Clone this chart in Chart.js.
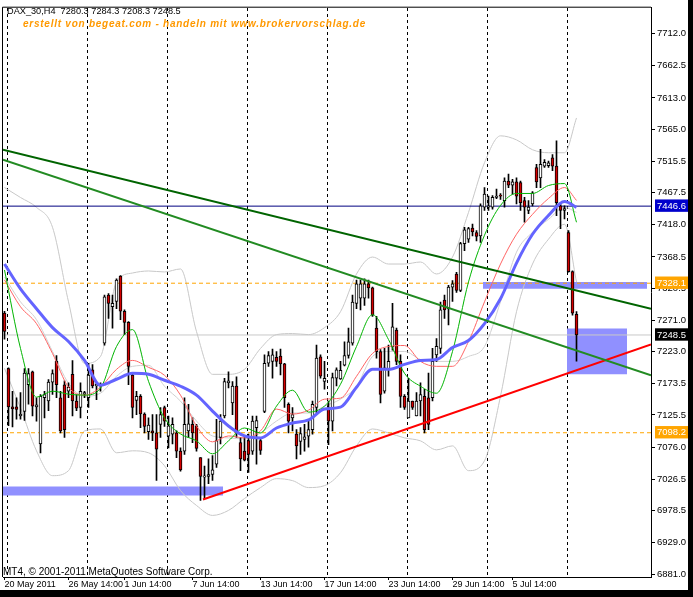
<!DOCTYPE html>
<html>
<head>
<meta charset="utf-8">
<script src="https://cdn.jsdelivr.net/npm/chart.js@4.4.1/dist/chart.umd.min.js"></script>
<style>
    html, body { margin: 0; padding: 0; background: #000; width: 693px; height: 597px; overflow: hidden; }
    #chart { display: block; background: #fff; }
</style>
</head>
<body>
<canvas id="chart" width="688" height="590"></canvas>
<script>
// ===== Data (DAX_30, H4) =====
const barOpen = [
    7282, 7197, 7138, 7138, 7124, 7131, 7172, 7192, 7138, 7081, 7152, 7147, 7176, 7208, 7152, 7172,
    7162, 7188, 7147, 7137, 7157, 7152, 7195, 7170, 7171, 7236, 7310, 7292, 7300, 7339, 7285, 7268,
    7187, 7148, 7154, 7127, 7100, 7101, 7098, 7111, 7137, 7093, 7096, 7098, 7070, 7070, 7101, 7111,
    7109, 7060, 7030, 7031, 7034, 7050, 7091, 7124, 7175, 7144, 7170, 7083, 7070, 7086, 7070, 7106,
    7086, 7131, 7205, 7208, 7214, 7216, 7204, 7142, 7121, 7096, 7085, 7088, 7093, 7103, 7137, 7215,
    7177, 7137, 7116, 7182, 7181, 7202, 7217, 7236, 7297, 7305, 7305, 7327, 7321, 7259, 7223, 7162,
    7195, 7230, 7256, 7208, 7154, 7121, 7147, 7124, 7147, 7154, 7152, 7152, 7218, 7228, 7302, 7289,
    7322, 7342, 7317, 7389, 7396, 7413, 7406, 7401, 7445, 7445, 7445, 7460, 7463, 7455, 7485, 7479,
    7484, 7483, 7455, 7440, 7450, 7506, 7490, 7508, 7509, 7521, 7508, 7447, 7440, 7406, 7346, 7280.3
];
const barHigh = [
    7285, 7198, 7162, 7152, 7160, 7197, 7197, 7193, 7152, 7157, 7162, 7180, 7195, 7217, 7162, 7178,
    7175, 7209, 7157, 7175, 7162, 7205, 7203, 7175, 7175, 7310, 7312, 7310, 7335, 7340, 7287, 7269,
    7190, 7162, 7157, 7129, 7121, 7126, 7126, 7137, 7139, 7124, 7121, 7101, 7075, 7152, 7142, 7121,
    7111, 7060, 7047, 7058, 7063, 7119, 7126, 7182, 7192, 7177, 7184, 7091, 7091, 7096, 7124, 7124,
    7091, 7218, 7223, 7227, 7223, 7227, 7205, 7144, 7137, 7103, 7106, 7111, 7116, 7147, 7233, 7218,
    7208, 7147, 7190, 7198, 7208, 7238, 7259, 7310, 7333, 7333, 7335, 7333, 7322, 7277, 7226, 7228,
    7233, 7297, 7259, 7218, 7157, 7182, 7147, 7160, 7175, 7165, 7190, 7228, 7243, 7299, 7310, 7325,
    7332, 7345, 7391, 7414, 7414, 7419, 7409, 7450, 7475, 7462, 7463, 7473, 7466, 7490, 7496, 7488,
    7490, 7485, 7460, 7455, 7469, 7511, 7534, 7518, 7516, 7526, 7547, 7452, 7447, 7409, 7347, 7284.3
];
const barLow = [
    7242, 7109, 7107, 7119, 7119, 7117, 7142, 7124, 7116, 7067, 7121, 7132, 7157, 7152, 7098, 7091,
    7152, 7124, 7132, 7121, 7152, 7137, 7167, 7149, 7162, 7233, 7274, 7259, 7289, 7272, 7249, 7172,
    7121, 7126, 7106, 7098, 7088, 7086, 7025, 7091, 7108, 7075, 7081, 7060, 7039, 7065, 7091, 7083,
    7070, 6994, 6997, 7020, 7025, 7045, 7081, 7121, 7167, 7126, 7091, 7040, 7055, 7037, 7065, 7050,
    7065, 7129, 7200, 7182, 7200, 7187, 7137, 7098, 7101, 7058, 7065, 7070, 7076, 7096, 7129, 7182,
    7165, 7080, 7101, 7170, 7180, 7201, 7213, 7233, 7289, 7287, 7294, 7305, 7277, 7213, 7144, 7159,
    7185, 7225, 7203, 7137, 7134, 7121, 7134, 7124, 7124, 7098, 7103, 7147, 7208, 7220, 7274, 7264,
    7300, 7314, 7315, 7378, 7391, 7401, 7393, 7391, 7440, 7440, 7442, 7458, 7457, 7445, 7475, 7465,
    7450, 7440, 7422, 7435, 7447, 7475, 7475, 7506, 7506, 7501, 7432, 7412, 7427, 7345, 7279, 7208.3
];
const barClose = [
    7254, 7138, 7135, 7134, 7127, 7190, 7189, 7139, 7141, 7154, 7157, 7176, 7189, 7172, 7101, 7103,
    7168, 7147, 7136, 7162, 7160, 7187, 7170, 7173, 7173, 7307, 7297, 7297, 7333, 7285, 7268, 7200,
    7137, 7154, 7127, 7108, 7110, 7098, 7073, 7126, 7116, 7109, 7111, 7070, 7041, 7111, 7112, 7098,
    7074, 7031, 7032, 7034, 7041, 7086, 7116, 7177, 7178, 7170, 7098, 7058, 7056, 7065, 7116, 7117,
    7071, 7205, 7217, 7218, 7208, 7204, 7152, 7116, 7126, 7078, 7097, 7092, 7103, 7142, 7213, 7185,
    7182, 7116, 7183, 7195, 7194, 7217, 7238, 7299, 7327, 7327, 7327, 7321, 7279, 7223, 7157, 7198,
    7208, 7261, 7208, 7154, 7137, 7147, 7137, 7147, 7157, 7103, 7111, 7208, 7231, 7287, 7287, 7322,
    7327, 7317, 7389, 7410, 7412, 7407, 7400, 7447, 7465, 7447, 7460, 7462, 7462, 7485, 7479, 7484,
    7462, 7452, 7445, 7445, 7467, 7484, 7511, 7514, 7513, 7508, 7452, 7440, 7443, 7346, 7282, 7248.5
];

// Indicator lines, read every 4 bars
const maBars = [0, 4, 8, 12, 16, 20, 24, 28, 32, 36, 40, 44, 48, 52, 56, 60, 64, 68, 72, 76, 80, 84,
    88, 92, 96, 100, 104, 108, 112, 116, 120, 124, 128, 132, 136, 140, 143];
const maBlue = [7357.6, 7319.4, 7288.9, 7259.8, 7238.4, 7209.4, 7171.2, 7180.4, 7189.6, 7188.0, 7178.9,
    7169.7, 7156.0, 7131.5, 7108.6, 7093.3, 7090.3, 7105.5, 7113.2, 7117.8, 7134.6, 7137.6, 7168.2, 7195.7,
    7195.7, 7203.3, 7209.4, 7210.9, 7229.3, 7240.0, 7265.9, 7304.1, 7359.1, 7403.4, 7432.4, 7453.8, 7444.7];
const maRed = [7333.2, 7291.9, 7265.9, 7220.1, 7168.2, 7156.0, 7168.2, 7195.7, 7209.4, 7198.7, 7186.5,
    7156.0, 7108.6, 7084.2, 7093.3, 7090.3, 7101.0, 7134.6, 7126.9, 7133.0, 7149.8, 7151.4, 7185.0, 7220.1,
    7230.8, 7232.3, 7207.9, 7200.3, 7200.3, 7238.4, 7299.5, 7357.6, 7403.4, 7434.0, 7458.4, 7475.2, 7455.4];
const maGreen = [7348.4, 7227.8, 7152.9, 7162.1, 7157.5, 7156.0, 7166.6, 7230.8, 7256.8, 7177.3, 7120.8,
    7096.4, 7085.7, 7065.8, 7085.7, 7105.5, 7097.9, 7139.1, 7163.6, 7130.0, 7139.1, 7172.8, 7230.8, 7279.7,
    7241.5, 7189.6, 7169.7, 7159.0, 7223.2, 7330.1, 7401.9, 7447.7, 7466.1, 7466.1, 7478.3, 7481.3, 7421.8];
const bbUpper = [7475.2, 7459.9, 7444.7, 7414.1, 7299.5, 7204.8, 7215.5, 7330.1, 7343.8, 7346.9, 7345.4,
    7350.0, 7253.7, 7188.0, 7188.0, 7195.7, 7227.8, 7249.1, 7250.7, 7249.1, 7259.8, 7284.3, 7342.3, 7368.3,
    7357.6, 7357.6, 7360.7, 7342.3, 7368.3, 7437.0, 7513.4, 7554.7, 7548.5, 7533.3, 7528.7, 7528.7, 7582.2];
const bbMiddle = [7337.7, 7299.5, 7272.0, 7223.2, 7174.3, 7154.4, 7159.0, 7185.0, 7200.3, 7201.8, 7169.7,
    7146.8, 7116.2, 7093.3, 7090.3, 7088.7, 7097.9, 7116.2, 7128.5, 7128.5, 7139.1, 7149.8, 7169.7, 7215.5,
    7223.2, 7223.2, 7210.9, 7207.9, 7207.9, 7215.5, 7230.8, 7299.5, 7375.9, 7406.5, 7426.3, 7444.7, 7437.0];
const bbLower = [7197.2, 7136.1, 7070.4, 7032.2, 7039.9, 7101.0, 7104.0, 7067.4, 7070.4, 7067.4, 7047.5,
    7009.3, 6986.4, 6971.1, 6978.8, 6997.1, 7013.9, 7027.6, 7024.6, 7013.9, 7016.9, 7036.8, 7078.0, 7104.0,
    7097.9, 7090.3, 7085.7, 7071.9, 7078.0, 7039.9, 7055.1, 7154.4, 7284.3, 7357.6, 7395.8, 7418.7, 7330.0];

// Trend lines (bar index, price)
const trendTopBars = [-0.375, 161.625];
const trendTopPrices = [7533.3, 7288.9];
const trendMidBars = [-0.375, 161.625];
const trendMidPrices = [7518.0, 7186.5];
const supportBars = [49.625, 161.625];
const supportPrices = [6995.6, 7233.9];

// Rectangles: [from bar, to bar] and [price top, price bottom]
const zoneBars = [[-0.375, 54.625], [119.625, 160.625], [140.625, 155.625]];
const zonePrices = [[7015.4, 7001.7], [7330.1, 7319.4], [7258.3, 7188.0]];

// Horizontal levels with their price boxes
const levelPrices = [7446.6, 7328.1, 7248.5, 7098.2];

// Axes
const yTickValues = [7712.0, 7662.5, 7613.0, 7565.0, 7515.5, 7467.5, 7418.0, 7368.5, 7320.5, 7271.0,
    7223.0, 7173.5, 7125.5, 7076.0, 7026.5, 6978.5, 6929.0, 6881.0];
const xLabelBars = [0, 16, 30, 47, 64, 80, 96, 112, 127];
const xLabels = ['20 May 2011', '26 May 14:00', '1 Jun 14:00', '7 Jun 14:00', '13 Jun 14:00',
    '17 Jun 14:00', '23 Jun 14:00', '29 Jun 14:00', '5 Jul 14:00'];

// ===== Chart =====
const X_MIN = -0.375;
const X_MAX = 161.625;
const Y_MIN = 6876.4;
const Y_MAX = 7751.7;
const FONT = '"Liberation Sans", Arial, sans-serif';

const levelBox = { 7446.6: '#0000cc', 7328.1: '#ffa500', 7248.5: '#000000', 7098.2: '#ffa500' };
const isLevel = v => levelPrices.includes(v);

function series(values) {
    return values.map((v, k) => ({ x: maBars[k], y: v }));
}

function line(data, color, width, order, extra) {
    return Object.assign({
        type: 'line', data: data, borderColor: color, borderWidth: width,
        pointRadius: 0, fill: false, order: order, xAxisID: 'x', yAxisID: 'y'
    }, extra || {});
}

const datasets = [];

// blue zones (behind everything)
zoneBars.forEach((b, k) => {
    const p = zonePrices[k];
    datasets.push(line([
        { x: b[0], y: p[0] }, { x: b[1], y: p[0] }, { x: b[1], y: p[1] }, { x: b[0], y: p[1] }, { x: b[0], y: p[0] }
    ], 'rgba(0,0,0,0)', 0, 100, { fill: 'shape', backgroundColor: '#9090ff' }));
});

// bollinger bands
datasets.push(line(series(bbUpper), '#c8c8c8', 1, 80, { cubicInterpolationMode: 'monotone' }));
datasets.push(line(series(bbMiddle), '#d0d0d0', 1, 80, { cubicInterpolationMode: 'monotone' }));
datasets.push(line(series(bbLower), '#c8c8c8', 1, 80, { cubicInterpolationMode: 'monotone' }));

// horizontal levels
const levelStyle = [
    { color: '#000080', dash: [] },
    { color: '#ffa500', dash: [4, 3] },
    { color: '#c8c8c8', dash: [] },
    { color: '#ffa500', dash: [4, 3] }
];
levelPrices.forEach((p, k) => {
    datasets.push(line([{ x: X_MIN, y: p }, { x: X_MAX, y: p }], levelStyle[k].color, 1, 70,
        { borderDash: levelStyle[k].dash }));
});

// candles: wicks + bodies
datasets.push({
    type: 'bar', order: 51, xAxisID: 'x', yAxisID: 'y', grouped: false,
    data: barLow.map((l, i) => ({ x: i, y: [l, barHigh[i]] })),
    backgroundColor: '#000', barThickness: 1, borderWidth: 0
});
datasets.push({
    type: 'bar', order: 50, xAxisID: 'x', yAxisID: 'y', grouped: false,
    data: barOpen.map((o, i) => ({ x: i, y: [o, barClose[i]] })),
    backgroundColor: barOpen.map((o, i) => barClose[i] >= o ? '#ffffff' : '#d40000'),
    borderColor: '#000', borderWidth: 1, borderSkipped: false, barThickness: 3, minBarLength: 1
});

// moving averages
datasets.push(line(series(maRed), '#ff6464', 1, 32, { cubicInterpolationMode: 'monotone' }));
datasets.push(line(series(maGreen), '#00b400', 1, 31, { cubicInterpolationMode: 'monotone' }));
datasets.push(line(series(maBlue), '#6464ff', 3, 30, { cubicInterpolationMode: 'monotone' }));

// trend lines
datasets.push(line(trendTopBars.map((x, k) => ({ x: x, y: trendTopPrices[k] })), '#006400', 2, 10));
datasets.push(line(trendMidBars.map((x, k) => ({ x: x, y: trendMidPrices[k] })), '#228b22', 2, 10));
datasets.push(line(supportBars.map((x, k) => ({ x: x, y: supportPrices[k] })), '#ff0000', 2, 10));

// Frame and texts written on the chart
const overlayText = {
    id: 'overlayText',
    afterDraw(chart) {
        const ctx = chart.ctx;
        const area = chart.chartArea;
        ctx.save();
        ctx.strokeStyle = '#000';
        ctx.lineWidth = 1;
        ctx.beginPath();
        ctx.moveTo(area.left - 0.5, area.bottom);
        ctx.lineTo(area.left - 0.5, area.top - 0.5);
        ctx.lineTo(area.right, area.top - 0.5);
        ctx.stroke();

        ctx.textBaseline = 'alphabetic';
        ctx.textAlign = 'left';
        ctx.fillStyle = '#000';
        ctx.font = '9.2px ' + FONT;
        ctx.fillText('DAX_30,H4  7280.3 7284.3 7208.3 7248.5', 7, 14);
        ctx.font = '10px ' + FONT;
        ctx.fillText('MT4, \u00a9 2001-2011 MetaQuotes Software Corp.', 3, 575);

        ctx.fillStyle = '#ff9900';
        ctx.font = 'italic bold 10px ' + FONT;
        ctx.letterSpacing = '0.75px';
        ctx.fillText('erstellt von begeat.com - handeln mit www.brokervorschlag.de', 23, 27);
        ctx.restore();
    }
};

new Chart(document.getElementById('chart'), {
    type: 'bar',
    data: { datasets: datasets },
    options: {
        responsive: false,
        animation: false,
        layout: { padding: { left: 3, top: 4, right: 0, bottom: 0 } },
        plugins: { legend: { display: false }, tooltip: { enabled: false } },
        scales: {
            x: {
                type: 'linear', position: 'bottom', min: X_MIN, max: X_MAX, offset: false,
                afterBuildTicks: s => { s.ticks = xLabelBars.map(v => ({ value: v })); },
                afterFit: s => { s.height = 13; },
                ticks: {
                    autoSkip: false, maxRotation: 0, align: 'start', padding: -1, color: '#000',
                    font: { family: FONT, size: 9 },
                    callback: (v, i) => xLabels[i]
                },
                grid: { drawOnChartArea: false, drawTicks: true, tickLength: 3, tickColor: '#000', offset: false },
                border: { display: true, color: '#000' }
            },
            xg: {
                type: 'linear', position: 'top', min: X_MIN, max: X_MAX, offset: false,
                afterBuildTicks: s => {
                    const t = [];
                    for (let v = 0.625; v < 150; v += 20) t.push({ value: v });
                    s.ticks = t;
                },
                afterFit: s => { s.height = 0; },
                ticks: { display: false },
                grid: { color: '#000', lineWidth: 1, drawTicks: false, offset: false },
                border: { display: false, dash: [3, 3] }
            },
            y: {
                type: 'linear', position: 'right', min: Y_MIN, max: Y_MAX,
                afterBuildTicks: s => {
                    s.ticks = yTickValues.concat(levelPrices).map(v => ({ value: v }));
                },
                afterFit: s => { s.width = 37; },
                ticks: {
                    autoSkip: false, padding: 2,
                    font: { family: FONT, size: 9.5 },
                    color: c => isLevel(c.tick.value) ? '#fff' : '#000',
                    showLabelBackdrop: c => isLevel(c.tick.value),
                    backdropColor: c => levelBox[c.tick.value] || 'rgba(0,0,0,0)',
                    backdropPadding: { left: 2, right: 2, top: 1, bottom: 0 },
                    callback: v => v.toFixed(1)
                },
                grid: {
                    drawOnChartArea: false, drawTicks: true, tickLength: 4,
                    tickColor: c => (c.tick && isLevel(c.tick.value)) ? 'rgba(0,0,0,0)' : '#000'
                },
                border: { display: true, color: '#000' }
            }
        }
    },
    plugins: [overlayText]
});
</script>
</body>
</html>
